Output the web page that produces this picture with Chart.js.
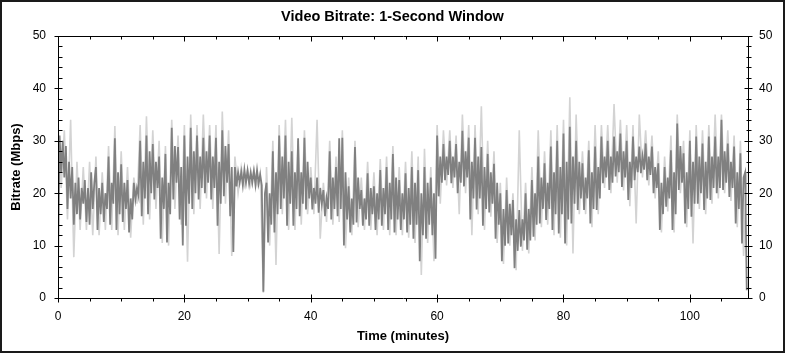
<!DOCTYPE html>
<html>
<head>
<meta charset="utf-8">
<script src="https://cdn.jsdelivr.net/npm/chart.js@4/dist/chart.umd.min.js"></script>
<style>
  html, body { margin: 0; padding: 0; background: #fff; }
  canvas { display: block; }
</style>
</head>
<body>
<canvas id="bitrateChart" width="785" height="353"></canvas>
<script>
// bitrate samples, one value every 15 s (Mbps)
const sampleStepMin = 0.25;
const bitrateMain = [
    5, 31, 24, 30,   23, 29, 17, 26,   19, 25, 14, 22,   16, 23, 15, 21,
    18, 22.5, 14.5, 21,   14, 24, 17, 22,   25, 13, 21, 16,   22, 14.5, 20, 17,
    27, 14, 22, 18,   30.5, 13, 24, 16,   25.5, 14.5, 22, 17,   22.5, 12.5, 19, 15,
    22, 18.8, 21, 19.5,   30, 15.6, 26, 19,   31, 16, 28, 20,   29.4, 18.8, 26, 21,
    27, 11.3, 23, 17,   27.5, 10.6, 22, 16,   32.5, 18.8, 29, 22,   28.8, 15, 25, 10,
    31, 13.8, 27, 18,   32.5, 17, 28, 20,   31, 18.8, 27, 21,   30.6, 20, 28, 22,
    31, 18.8, 27, 21,   30.6, 13.8, 26, 18,   32, 19.4, 29, 22,   29.4, 15.6, 25, 8.8,
    25, 21.3, 24, 22,   24, 21.5, 24.5, 22,   24.3, 21.8, 24, 22,   24.2, 21.6, 24.4, 21.8,
    23.5, 21.5, 1.2, 20,   22, 10.6, 20, 14,   28, 12.5, 24, 16,   31, 17, 27, 19,
    31, 13.8, 26, 18,   28, 13.8, 24, 17,   30.5, 15.6, 24, 18,   30.6, 16.9, 26, 19,
    23, 16.9, 21, 18,   23, 16.3, 21, 18,   20.6, 15.6, 19, 17,   28, 15, 23, 17,
    25, 15.6, 30.5, 17,   30.6, 10, 24, 15,   21.3, 12.5, 19, 14,   28.8, 14.4, 23, 17,
    20.6, 13.8, 19, 15,   23.8, 13.8, 21, 16,   21.3, 13, 20, 15,   24.4, 13.8, 21, 16,
    25, 13, 22, 15,   27.5, 12.5, 23, 15,   22.5, 13, 20, 15,   23.8, 12.5, 21, 14,
    25, 11.3, 22, 14,   24.4, 7, 20, 12,   25, 11.3, 22, 14,   23, 12, 20, 7.5,
    31, 19.4, 27, 22,   29.4, 22.5, 27, 23.5,   30, 21.9, 27, 23,   29.4, 20, 26, 22,
    31.9, 21.3, 28, 23,   30.6, 15, 26, 19,   30.6, 16.9, 27, 19,   28.8, 13.8, 25, 17,
    27.5, 16.3, 24, 18,   25.6, 11.3, 22, 14,   20, 7, 17, 10,   20.6, 10.4, 18, 12,
    18.7, 5.7, 15, 9,   16.8, 9.8, 15, 11,   20, 9.2, 17, 11,   22.5, 11.7, 20, 14,
    27, 14.2, 23, 17,   25.7, 14.9, 22, 17,   28.9, 13, 24, 16,   30, 12.3, 25, 16,
    31.4, 10.4, 26, 15,   32.7, 14.2, 27, 18,   30, 16.8, 26, 19,   25.7, 16.8, 23, 19,
    28.2, 14.2, 24, 17,   28.9, 16.8, 25, 19,   30.8, 21.9, 27, 23,   30, 20.6, 27, 22,
    30.8, 23.2, 28, 24,   31.4, 21.2, 28, 23,   30, 18.7, 26, 21,   30.8, 22.5, 27, 24,
    28.9, 23.8, 27, 24.5,   29.5, 22.5, 27, 23.5,   28.9, 20, 25, 21,   25.7, 13, 22, 16,
    25, 17.4, 23, 19,   28.2, 13, 24, 16,   33.3, 20.6, 29, 22,   27.6, 14.2, 24, 17,
    30, 15.5, 26, 18,   30.8, 18, 27, 20,   29.5, 16.8, 26, 19,   30.8, 18.7, 27, 21,
    30.8, 20, 27, 21,   34, 20.6, 28, 22,   29.5, 19.3, 26, 21,   28.9, 14.2, 24, 17,
    27.6, 10.4, 23, 24,
    1.5
];

// light grey peaks behind the main trace, one value every 30 s
const peakStepMin = 0.5;
const bitratePeaks = [
    33.5, 21,  32, 15,  34, 7.8,  26, 13,  25, 13,  26, 12,  27, 12,  24, 13,
    29, 13,  32.8, 12,  28, 13,  25, 11.5,  23, 18,  33, 14,  34.7, 15,  32, 17,
    30, 10.5,  29, 10,  34, 17,  31, 14,  33, 6.9,  35, 16,  33, 17,  35, 19,
    33, 17,  33, 8.4,  35.6, 18,  32, 8,  27, 20,  25, 21.5,  24.5, 21.5,  24.5, 21.5,
    24, 1,  25, 10,  30, 6.3,  33, 16,  34, 13,  34.4, 13,  30, 14,  32, 16,
    25, 16,  34, 11.3,  22, 14.5,  30, 14,  27, 14.5,  32, 9.5,  23, 12,  30, 13.5,
    23, 13,  26, 13,  24, 12,  26.5, 13,  27, 12,  29, 12,  25, 12,  26, 11.5,
    28, 10.5,  27, 4.4,  28.5, 10.5,  25, 7,  33, 18,  32, 21.5,  32, 21,  31, 16,
    35, 20,  33, 12,  33, 16,  36.6, 13,  30, 15.5,  28, 10.5,  22, 6.5,  23, 10,
    20, 5.3,  32, 9,  22, 8.5,  25, 11,  32, 13.5,  28, 14,  32, 12,  33, 11.5,
    34, 10,  38.3, 8.5,  35, 16,  28, 16,  30, 13.5,  33, 16,  33, 21,  33, 20,
    37, 22,  34, 20.5,  33, 17.5,  33, 14.2,  35, 23,  32, 21.5,  31, 19,  28, 12.5,
    27, 16.5,  31, 12.5,  35, 20,  30, 13.5,  32, 10.4,  33, 17,  32, 16,  33, 18,
    35, 19,  35, 20,  32, 18.5,  31, 13.5,  30, 8,
    24
];

const xTicks = [0, 20, 40, 60, 80, 100];
const yTicks = [0, 10, 20, 30, 40, 50];
const xMinorStep = 5;
const yMinorStep = 2;
const xMaxMin = 109.2;

const FONT = "'Liberation Sans', Arial, sans-serif";

function toPoints(values, step) {
    return values.map((v, i) => ({ x: i * step, y: v }));
}

// axis box with inward/outward tick marks, plus the outer picture border
const framePlugin = {
    id: "frame",
    afterDatasetsDraw(chart) {
        const { ctx, chartArea: a, scales } = chart;
        const L = Math.round(a.left) + 0.5;
        const R = Math.round(a.right) + 0.5;
        const T = Math.round(a.top) + 0.5;
        const B = Math.round(a.bottom) + 0.5;
        ctx.save();
        ctx.strokeStyle = "#000";
        ctx.lineWidth = 1;
        ctx.beginPath();
        ctx.rect(L, T, R - L, B - T);

        for (let v = 0; v <= xMaxMin; v += xMinorStep) {
            const px = Math.round(scales.x.getPixelForValue(v)) + 0.5;
            if (xTicks.includes(v)) {
                ctx.moveTo(px, B - 4); ctx.lineTo(px, B + 4);
                ctx.moveTo(px, T); ctx.lineTo(px, T + 5);
            } else {
                ctx.moveTo(px, B); ctx.lineTo(px, B + 3);
                ctx.moveTo(px, T); ctx.lineTo(px, T + 3);
            }
        }
        for (let v = 0; v <= 50; v += yMinorStep) {
            const py = Math.round(scales.y.getPixelForValue(v)) + 0.5;
            if (yTicks.includes(v)) {
                ctx.moveTo(L - 4, py); ctx.lineTo(L + 4, py);
                ctx.moveTo(R - 4, py); ctx.lineTo(R + 4, py);
            } else {
                ctx.moveTo(L, py); ctx.lineTo(L + 4, py);
                ctx.moveTo(R - 2, py); ctx.lineTo(R + 3, py);
            }
        }
        ctx.stroke();

        ctx.strokeStyle = "#1a1a1a";
        ctx.lineWidth = 2;
        ctx.strokeRect(1, 1, chart.width - 2, chart.height - 2);
        ctx.restore();
    }
};

new Chart(document.getElementById("bitrateChart"), {
    type: "line",
    data: {
        datasets: [
            {
                label: "Bitrate",
                data: toPoints(bitrateMain, sampleStepMin),
                borderColor: "#808080",
                borderWidth: 1.8,
                pointRadius: 0,
                tension: 0
            },
            {
                label: "Peaks",
                data: toPoints(bitratePeaks, peakStepMin),
                borderColor: "#d3d3d3",
                borderWidth: 1.6,
                pointRadius: 0,
                tension: 0
            }
        ]
    },
    options: {
        responsive: false,
        animation: false,
        layout: { padding: 0 },
        plugins: {
            legend: { display: false },
            tooltip: { enabled: false },
            title: {
                display: true,
                text: "Video Bitrate: 1-Second Window",
                color: "#000",
                font: { family: FONT, size: 14.5, weight: "bold" },
                padding: { top: 8.5, bottom: 10.1 }
            }
        },
        scales: {
            x: {
                type: "linear",
                position: "bottom",
                min: 0,
                max: xMaxMin,
                grid: { display: false, drawTicks: false },
                border: { display: false },
                ticks: {
                    stepSize: 20,
                    includeBounds: false,
                    padding: 11,
                    color: "#000",
                    font: { family: FONT, size: 12 },
                    maxRotation: 0
                },
                title: {
                    display: true,
                    text: "Time (minutes)",
                    color: "#000",
                    font: { family: FONT, size: 13, weight: "bold" },
                    padding: { top: 0, bottom: 8.7 }
                },
                afterFit(s) { s.height = 55; }
            },
            y: {
                position: "left",
                min: 0,
                max: 50,
                grid: { display: false, drawTicks: false },
                border: { display: false },
                ticks: {
                    stepSize: 10,
                    padding: 12,
                    color: "#000",
                    font: { family: FONT, size: 12 }
                },
                title: {
                    display: true,
                    text: "Bitrate (Mbps)",
                    color: "#000",
                    font: { family: FONT, size: 13, weight: "bold" },
                    padding: { top: 8.2, bottom: 0 }
                },
                afterFit(s) { s.width = 58; }
            },
            y2: {
                position: "right",
                min: 0,
                max: 50,
                grid: { display: false, drawTicks: false },
                border: { display: false },
                ticks: {
                    stepSize: 10,
                    padding: 11,
                    color: "#000",
                    font: { family: FONT, size: 12 }
                },
                afterFit(s) { s.width = 37; }
            }
        }
    },
    plugins: [framePlugin]
});
</script>
</body>
</html>
